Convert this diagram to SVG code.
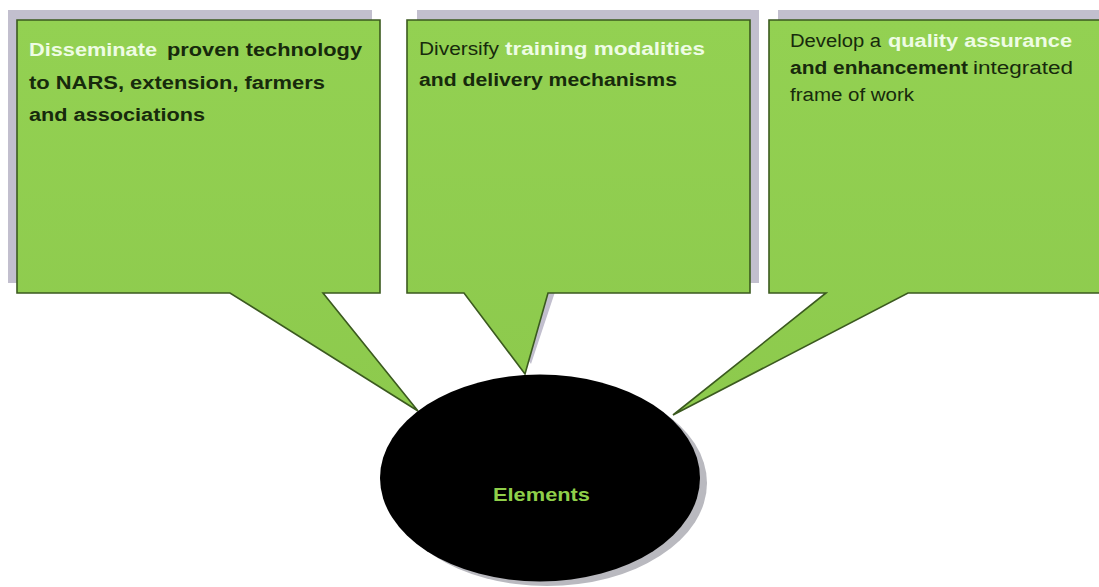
<svg xmlns="http://www.w3.org/2000/svg" width="1099" height="587" viewBox="0 0 1099 587">
<style>
.shadow{fill:#c2bfce}
.box{fill:url(#g);stroke:#3b5a1f;stroke-width:1.6;stroke-linejoin:miter}
.t{font-family:"Liberation Sans",Arial,sans-serif;font-size:18px}
.b{font-weight:bold}
.dk{fill:#172a0c}
.wt{fill:#eefce4}
.el{fill:#8fcf4a;font-weight:bold}
</style>
<defs>
<linearGradient id="g" x1="0" y1="0" x2="0" y2="1">
<stop offset="0" stop-color="#93d152"/>
<stop offset="1" stop-color="#8dca4d"/>
</linearGradient>
</defs>
<rect width="1099" height="587" fill="#ffffff"/>
<g id="node-1">
<rect class="shadow" x="8" y="10" width="364" height="273"/>
<polygon class="box" points="17,20 380,20 380,293 323,293 418,411 230,293 17,293"/>
<text class="t b wt" x="29" y="56" textLength="128" lengthAdjust="spacingAndGlyphs">Disseminate</text>
<text class="t b dk" x="167" y="56" textLength="195" lengthAdjust="spacingAndGlyphs">proven technology</text>
<text class="t b dk" x="29" y="89" textLength="296" lengthAdjust="spacingAndGlyphs">to NARS, extension, farmers</text>
<text class="t b dk" x="29" y="121" textLength="176" lengthAdjust="spacingAndGlyphs">and associations</text>
</g>
<g id="node-2">
<polygon class="shadow" points="417,10 759,10 759,283 558,283 531,364 474,283 417,283"/>
<polygon class="box" points="407,20 750,20 750,293 548,293 525,374 464,293 407,293"/>
<text class="t dk" x="419" y="55" textLength="80" lengthAdjust="spacingAndGlyphs">Diversify</text>
<text class="t b wt" x="505" y="55" textLength="200" lengthAdjust="spacingAndGlyphs">training modalities</text>
<text class="t b dk" x="419" y="86" textLength="258" lengthAdjust="spacingAndGlyphs">and delivery mechanisms</text>
</g>
<g id="node-3">
<rect class="shadow" x="778" y="10" width="330" height="273"/>
<polygon class="box" points="769,20 1110,20 1110,293 908,293 673,415 826,293 769,293"/>
<text class="t dk" x="790" y="47" textLength="91" lengthAdjust="spacingAndGlyphs">Develop a</text>
<text class="t b wt" x="888" y="47" textLength="184" lengthAdjust="spacingAndGlyphs">quality assurance</text>
<text class="t b dk" x="790" y="74" textLength="178" lengthAdjust="spacingAndGlyphs">and enhancement</text>
<text class="t dk" x="973" y="74" textLength="100" lengthAdjust="spacingAndGlyphs">integrated</text>
<text class="t dk" x="790" y="101" textLength="124" lengthAdjust="spacingAndGlyphs">frame of work</text>
</g>
<g id="node-elements">
<ellipse cx="547" cy="483" rx="160" ry="103" fill="#b9b9bf"/>
<ellipse cx="540" cy="478" rx="160" ry="103.5" fill="#000000"/>
<text class="t el" x="493" y="501" textLength="97" lengthAdjust="spacingAndGlyphs">Elements</text>
</g>
<g id="connectors"></g>
</svg>
